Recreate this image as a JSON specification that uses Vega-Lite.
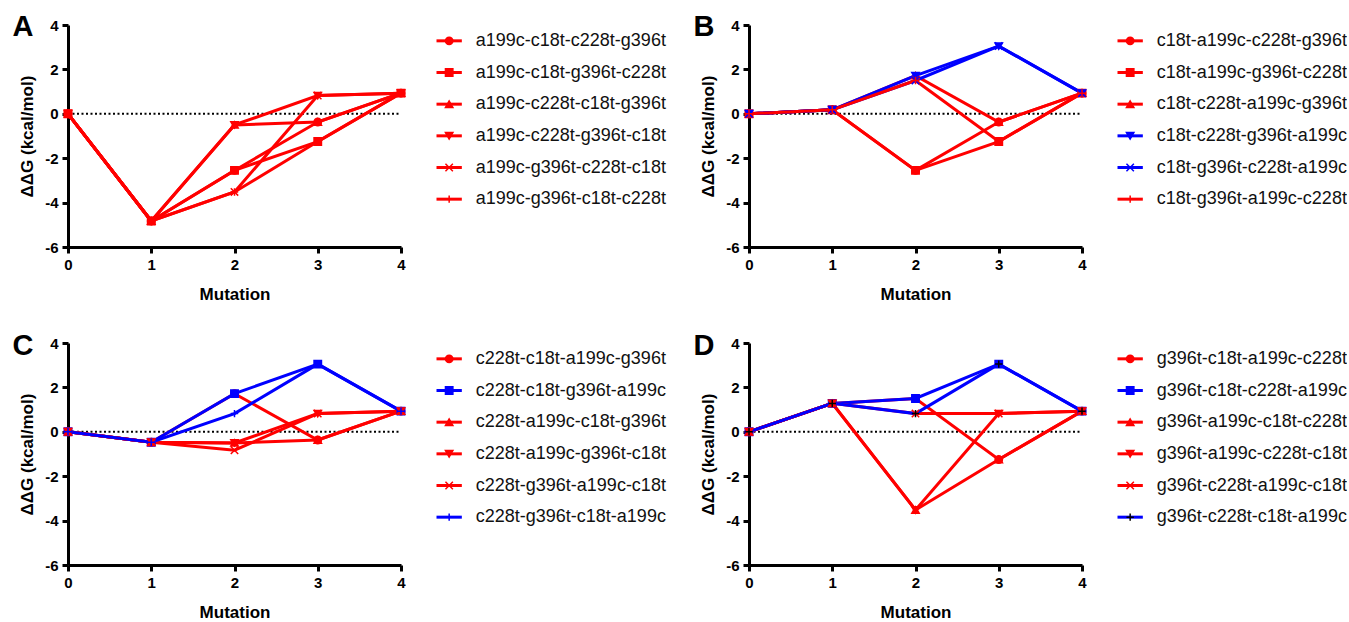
{
  "$schema": "https://vega.github.io/schema/vega-lite/v6.json",
  "padding": {"left": 12, "top": 13, "right": 0, "bottom": 0},
  "background": "white",
  "config": {
    "font": "Liberation Sans",
    "view": {"stroke": null},
    "axis": {
      "domainColor": "#000", "domainWidth": 3, "tickColor": "#000", "tickWidth": 3, "tickSize": 6,
      "labelFont": "Liberation Sans", "labelFontSize": 15, "labelFontWeight": "bold", "labelColor": "#000", "labelPadding": 4,
      "titleFont": "Liberation Sans", "titleFontSize": 17, "titleFontWeight": "bold", "titleColor": "#000", "grid": false
    },
    "axisX": {"titlePadding": 14},
    "axisY": {"titlePadding": 8},
    "text": {"font": "Liberation Sans"}
  },
  "datasets": {
    "d": [
      {"p": "A", "s": "a199c-c18t-c228t-g396t", "m": 0, "g": 0},
      {"p": "A", "s": "a199c-c18t-c228t-g396t", "m": 1, "g": -4.83},
      {"p": "A", "s": "a199c-c18t-c228t-g396t", "m": 2, "g": -2.55},
      {"p": "A", "s": "a199c-c18t-c228t-g396t", "m": 3, "g": -0.37},
      {"p": "A", "s": "a199c-c18t-c228t-g396t", "m": 4, "g": 0.93},
      {"p": "A", "s": "a199c-c18t-g396t-c228t", "m": 0, "g": 0},
      {"p": "A", "s": "a199c-c18t-g396t-c228t", "m": 1, "g": -4.83},
      {"p": "A", "s": "a199c-c18t-g396t-c228t", "m": 2, "g": -2.55},
      {"p": "A", "s": "a199c-c18t-g396t-c228t", "m": 3, "g": -1.25},
      {"p": "A", "s": "a199c-c18t-g396t-c228t", "m": 4, "g": 0.93},
      {"p": "A", "s": "a199c-c228t-c18t-g396t", "m": 0, "g": 0},
      {"p": "A", "s": "a199c-c228t-c18t-g396t", "m": 1, "g": -4.83},
      {"p": "A", "s": "a199c-c228t-c18t-g396t", "m": 2, "g": -0.5},
      {"p": "A", "s": "a199c-c228t-c18t-g396t", "m": 3, "g": -0.37},
      {"p": "A", "s": "a199c-c228t-c18t-g396t", "m": 4, "g": 0.93},
      {"p": "A", "s": "a199c-c228t-g396t-c18t", "m": 0, "g": 0},
      {"p": "A", "s": "a199c-c228t-g396t-c18t", "m": 1, "g": -4.83},
      {"p": "A", "s": "a199c-c228t-g396t-c18t", "m": 2, "g": -0.5},
      {"p": "A", "s": "a199c-c228t-g396t-c18t", "m": 3, "g": 0.82},
      {"p": "A", "s": "a199c-c228t-g396t-c18t", "m": 4, "g": 0.93},
      {"p": "A", "s": "a199c-g396t-c228t-c18t", "m": 0, "g": 0},
      {"p": "A", "s": "a199c-g396t-c228t-c18t", "m": 1, "g": -4.83},
      {"p": "A", "s": "a199c-g396t-c228t-c18t", "m": 2, "g": -3.52},
      {"p": "A", "s": "a199c-g396t-c228t-c18t", "m": 3, "g": 0.82},
      {"p": "A", "s": "a199c-g396t-c228t-c18t", "m": 4, "g": 0.93},
      {"p": "A", "s": "a199c-g396t-c18t-c228t", "m": 0, "g": 0},
      {"p": "A", "s": "a199c-g396t-c18t-c228t", "m": 1, "g": -4.83},
      {"p": "A", "s": "a199c-g396t-c18t-c228t", "m": 2, "g": -3.52},
      {"p": "A", "s": "a199c-g396t-c18t-c228t", "m": 3, "g": -1.25},
      {"p": "A", "s": "a199c-g396t-c18t-c228t", "m": 4, "g": 0.93},

      {"p": "B", "s": "c18t-a199c-c228t-g396t", "m": 0, "g": 0},
      {"p": "B", "s": "c18t-a199c-c228t-g396t", "m": 1, "g": 0.18},
      {"p": "B", "s": "c18t-a199c-c228t-g396t", "m": 2, "g": -2.55},
      {"p": "B", "s": "c18t-a199c-c228t-g396t", "m": 3, "g": -0.37},
      {"p": "B", "s": "c18t-a199c-c228t-g396t", "m": 4, "g": 0.93},
      {"p": "B", "s": "c18t-a199c-g396t-c228t", "m": 0, "g": 0},
      {"p": "B", "s": "c18t-a199c-g396t-c228t", "m": 1, "g": 0.18},
      {"p": "B", "s": "c18t-a199c-g396t-c228t", "m": 2, "g": -2.55},
      {"p": "B", "s": "c18t-a199c-g396t-c228t", "m": 3, "g": -1.25},
      {"p": "B", "s": "c18t-a199c-g396t-c228t", "m": 4, "g": 0.93},
      {"p": "B", "s": "c18t-c228t-a199c-g396t", "m": 0, "g": 0},
      {"p": "B", "s": "c18t-c228t-a199c-g396t", "m": 1, "g": 0.18},
      {"p": "B", "s": "c18t-c228t-a199c-g396t", "m": 2, "g": 1.72},
      {"p": "B", "s": "c18t-c228t-a199c-g396t", "m": 3, "g": -0.37},
      {"p": "B", "s": "c18t-c228t-a199c-g396t", "m": 4, "g": 0.93},
      {"p": "B", "s": "c18t-c228t-g396t-a199c", "m": 0, "g": 0},
      {"p": "B", "s": "c18t-c228t-g396t-a199c", "m": 1, "g": 0.18},
      {"p": "B", "s": "c18t-c228t-g396t-a199c", "m": 2, "g": 1.72},
      {"p": "B", "s": "c18t-c228t-g396t-a199c", "m": 3, "g": 3.05},
      {"p": "B", "s": "c18t-c228t-g396t-a199c", "m": 4, "g": 0.93},
      {"p": "B", "s": "c18t-g396t-c228t-a199c", "m": 0, "g": 0},
      {"p": "B", "s": "c18t-g396t-c228t-a199c", "m": 1, "g": 0.18},
      {"p": "B", "s": "c18t-g396t-c228t-a199c", "m": 2, "g": 1.5},
      {"p": "B", "s": "c18t-g396t-c228t-a199c", "m": 3, "g": 3.05},
      {"p": "B", "s": "c18t-g396t-c228t-a199c", "m": 4, "g": 0.93},
      {"p": "B", "s": "c18t-g396t-a199c-c228t", "m": 0, "g": 0},
      {"p": "B", "s": "c18t-g396t-a199c-c228t", "m": 1, "g": 0.18},
      {"p": "B", "s": "c18t-g396t-a199c-c228t", "m": 2, "g": 1.5},
      {"p": "B", "s": "c18t-g396t-a199c-c228t", "m": 3, "g": -1.25},
      {"p": "B", "s": "c18t-g396t-a199c-c228t", "m": 4, "g": 0.93},

      {"p": "C", "s": "c228t-c18t-a199c-g396t", "m": 0, "g": 0},
      {"p": "C", "s": "c228t-c18t-a199c-g396t", "m": 1, "g": -0.47},
      {"p": "C", "s": "c228t-c18t-a199c-g396t", "m": 2, "g": 1.72},
      {"p": "C", "s": "c228t-c18t-a199c-g396t", "m": 3, "g": -0.37},
      {"p": "C", "s": "c228t-c18t-a199c-g396t", "m": 4, "g": 0.93},
      {"p": "C", "s": "c228t-c18t-g396t-a199c", "m": 0, "g": 0},
      {"p": "C", "s": "c228t-c18t-g396t-a199c", "m": 1, "g": -0.47},
      {"p": "C", "s": "c228t-c18t-g396t-a199c", "m": 2, "g": 1.72},
      {"p": "C", "s": "c228t-c18t-g396t-a199c", "m": 3, "g": 3.05},
      {"p": "C", "s": "c228t-c18t-g396t-a199c", "m": 4, "g": 0.93},
      {"p": "C", "s": "c228t-a199c-c18t-g396t", "m": 0, "g": 0},
      {"p": "C", "s": "c228t-a199c-c18t-g396t", "m": 1, "g": -0.47},
      {"p": "C", "s": "c228t-a199c-c18t-g396t", "m": 2, "g": -0.5},
      {"p": "C", "s": "c228t-a199c-c18t-g396t", "m": 3, "g": -0.37},
      {"p": "C", "s": "c228t-a199c-c18t-g396t", "m": 4, "g": 0.93},
      {"p": "C", "s": "c228t-a199c-g396t-c18t", "m": 0, "g": 0},
      {"p": "C", "s": "c228t-a199c-g396t-c18t", "m": 1, "g": -0.47},
      {"p": "C", "s": "c228t-a199c-g396t-c18t", "m": 2, "g": -0.5},
      {"p": "C", "s": "c228t-a199c-g396t-c18t", "m": 3, "g": 0.82},
      {"p": "C", "s": "c228t-a199c-g396t-c18t", "m": 4, "g": 0.93},
      {"p": "C", "s": "c228t-g396t-a199c-c18t", "m": 0, "g": 0},
      {"p": "C", "s": "c228t-g396t-a199c-c18t", "m": 1, "g": -0.47},
      {"p": "C", "s": "c228t-g396t-a199c-c18t", "m": 2, "g": -0.83},
      {"p": "C", "s": "c228t-g396t-a199c-c18t", "m": 3, "g": 0.82},
      {"p": "C", "s": "c228t-g396t-a199c-c18t", "m": 4, "g": 0.93},
      {"p": "C", "s": "c228t-g396t-c18t-a199c", "m": 0, "g": 0},
      {"p": "C", "s": "c228t-g396t-c18t-a199c", "m": 1, "g": -0.47},
      {"p": "C", "s": "c228t-g396t-c18t-a199c", "m": 2, "g": 0.82},
      {"p": "C", "s": "c228t-g396t-c18t-a199c", "m": 3, "g": 3.05},
      {"p": "C", "s": "c228t-g396t-c18t-a199c", "m": 4, "g": 0.93},

      {"p": "D", "s": "g396t-c18t-a199c-c228t", "m": 0, "g": 0},
      {"p": "D", "s": "g396t-c18t-a199c-c228t", "m": 1, "g": 1.28},
      {"p": "D", "s": "g396t-c18t-a199c-c228t", "m": 2, "g": 1.5},
      {"p": "D", "s": "g396t-c18t-a199c-c228t", "m": 3, "g": -1.25},
      {"p": "D", "s": "g396t-c18t-a199c-c228t", "m": 4, "g": 0.93},
      {"p": "D", "s": "g396t-c18t-c228t-a199c", "m": 0, "g": 0},
      {"p": "D", "s": "g396t-c18t-c228t-a199c", "m": 1, "g": 1.28},
      {"p": "D", "s": "g396t-c18t-c228t-a199c", "m": 2, "g": 1.5},
      {"p": "D", "s": "g396t-c18t-c228t-a199c", "m": 3, "g": 3.05},
      {"p": "D", "s": "g396t-c18t-c228t-a199c", "m": 4, "g": 0.93},
      {"p": "D", "s": "g396t-a199c-c18t-c228t", "m": 0, "g": 0},
      {"p": "D", "s": "g396t-a199c-c18t-c228t", "m": 1, "g": 1.28},
      {"p": "D", "s": "g396t-a199c-c18t-c228t", "m": 2, "g": -3.52},
      {"p": "D", "s": "g396t-a199c-c18t-c228t", "m": 3, "g": -1.25},
      {"p": "D", "s": "g396t-a199c-c18t-c228t", "m": 4, "g": 0.93},
      {"p": "D", "s": "g396t-a199c-c228t-c18t", "m": 0, "g": 0},
      {"p": "D", "s": "g396t-a199c-c228t-c18t", "m": 1, "g": 1.28},
      {"p": "D", "s": "g396t-a199c-c228t-c18t", "m": 2, "g": -3.52},
      {"p": "D", "s": "g396t-a199c-c228t-c18t", "m": 3, "g": 0.82},
      {"p": "D", "s": "g396t-a199c-c228t-c18t", "m": 4, "g": 0.93},
      {"p": "D", "s": "g396t-c228t-a199c-c18t", "m": 0, "g": 0},
      {"p": "D", "s": "g396t-c228t-a199c-c18t", "m": 1, "g": 1.28},
      {"p": "D", "s": "g396t-c228t-a199c-c18t", "m": 2, "g": 0.82},
      {"p": "D", "s": "g396t-c228t-a199c-c18t", "m": 3, "g": 0.82},
      {"p": "D", "s": "g396t-c228t-a199c-c18t", "m": 4, "g": 0.93},
      {"p": "D", "s": "g396t-c228t-c18t-a199c", "m": 0, "g": 0},
      {"p": "D", "s": "g396t-c228t-c18t-a199c", "m": 1, "g": 1.28},
      {"p": "D", "s": "g396t-c228t-c18t-a199c", "m": 2, "g": 0.82},
      {"p": "D", "s": "g396t-c228t-c18t-a199c", "m": 3, "g": 3.05},
      {"p": "D", "s": "g396t-c228t-c18t-a199c", "m": 4, "g": 0.93}
    ]
  },
  "resolve": {"scale": {"x": "independent", "y": "independent", "color": "independent", "fill": "independent", "stroke": "independent", "shape": "independent"}},
  "spacing": 30,
  "vconcat": [
    {
      "spacing": 26.5,
      "resolve": {"scale": {"x": "independent", "y": "independent", "color": "independent", "fill": "independent", "stroke": "independent", "shape": "independent"}},
      "hconcat": [
        {
          "width": 333, "height": 222,
          "data": {"name": "d"},
          "transform": [{"filter": "datum.p === 'A'"}],
          "layer": [
            {"transform": [{"aggregate": [{"op": "count", "as": "n"}]}], "mark": {"type": "rule", "color": "#000", "strokeWidth": 2, "strokeDash": [2, 2.5]}, "encoding": {
              "x": {"datum": 0, "type": "quantitative", "scale": {"domain": [0, 4], "nice": false}, "axis": {"title": "Mutation", "values": [0, 1, 2, 3, 4], "labelFlush": false}},
              "x2": {"datum": 4},
              "y": {"datum": 0, "type": "quantitative", "scale": {"domain": [-6, 4], "nice": false}, "axis": {"title": "ΔΔG (kcal/mol)", "values": [-6, -4, -2, 0, 2, 4], "labelExpr": "datum.value + ''", "labelFlush": false}}}},
            {"mark": {"type": "line", "strokeWidth": 3}, "encoding": {
              "x": {"field": "m", "type": "quantitative", "scale": {"domain": [0, 4], "nice": false}, "axis": {"title": "Mutation", "values": [0, 1, 2, 3, 4], "labelFlush": false}},
              "y": {"field": "g", "type": "quantitative", "scale": {"domain": [-6, 4], "nice": false}, "axis": {"title": "ΔΔG (kcal/mol)", "values": [-6, -4, -2, 0, 2, 4], "labelExpr": "datum.value + ''", "labelFlush": false}},
              "color": {"field": "s", "type": "nominal", "legend": null, "scale": {"domain": ["a199c-c18t-c228t-g396t", "a199c-c18t-g396t-c228t", "a199c-c228t-c18t-g396t", "a199c-c228t-g396t-c18t", "a199c-g396t-c228t-c18t", "a199c-g396t-c18t-c228t"], "range": ["#ff0000", "#ff0000", "#ff0000", "#ff0000", "#ff0000", "#ff0000"]}}}},
            {"mark": {"type": "point", "filled": true, "size": 55, "opacity": 1, "strokeWidth": 1.5}, "encoding": {
              "x": {"field": "m", "type": "quantitative", "scale": {"domain": [0, 4], "nice": false}, "axis": {"title": "Mutation", "values": [0, 1, 2, 3, 4], "labelFlush": false}},
              "y": {"field": "g", "type": "quantitative", "scale": {"domain": [-6, 4], "nice": false}, "axis": {"title": "ΔΔG (kcal/mol)", "values": [-6, -4, -2, 0, 2, 4], "labelExpr": "datum.value + ''", "labelFlush": false}},
              "shape": {"field": "s", "type": "nominal", "legend": null, "scale": {"domain": ["a199c-c18t-c228t-g396t", "a199c-c18t-g396t-c228t", "a199c-c228t-c18t-g396t", "a199c-c228t-g396t-c18t", "a199c-g396t-c228t-c18t", "a199c-g396t-c18t-c228t"], "range": ["circle", "square", "triangle-up", "triangle-down", "M-1,-1L1,1M-1,1L1,-1", "M-1,0L1,0M0,-1L0,1"]}},
              "fill": {"field": "s", "type": "nominal", "legend": null, "scale": {"domain": ["a199c-c18t-c228t-g396t", "a199c-c18t-g396t-c228t", "a199c-c228t-c18t-g396t", "a199c-c228t-g396t-c18t", "a199c-g396t-c228t-c18t", "a199c-g396t-c18t-c228t"], "range": ["#ff0000", "#ff0000", "#ff0000", "#ff0000", "#ff0000", "#ff0000"]}},
              "stroke": {"field": "s", "type": "nominal", "legend": null, "scale": {"domain": ["a199c-c18t-c228t-g396t", "a199c-c18t-g396t-c228t", "a199c-c228t-c18t-g396t", "a199c-c228t-g396t-c18t", "a199c-g396t-c228t-c18t", "a199c-g396t-c18t-c228t"], "range": ["#ff0000", "#ff0000", "#ff0000", "#ff0000", "#ff0000", "#ff0000"]}}
            }},
            {"transform": [{"aggregate": [{"op": "count", "as": "n"}]}], "mark": {"type": "text", "text": "A", "fontSize": 29, "fontWeight": "bold", "color": "#000"}, "encoding": {
              "x": {"datum": -0.54, "type": "quantitative", "scale": {"domain": [0, 4], "nice": false}, "axis": {"title": "Mutation", "values": [0, 1, 2, 3, 4], "labelFlush": false}},
              "y": {"datum": 3.9, "type": "quantitative", "scale": {"domain": [-6, 4], "nice": false}, "axis": {"title": "ΔΔG (kcal/mol)", "values": [-6, -4, -2, 0, 2, 4], "labelExpr": "datum.value + ''", "labelFlush": false}}}}
          ]
        },
        {
          "width": 228, "height": 190,
          "data": {"name": "d"},
          "transform": [{"filter": "datum.p === 'A' && datum.m === 0"}],
          "encoding": {"y": {"field": "s", "type": "nominal", "axis": null, "scale": {"type": "point", "padding": 0.5, "domain": ["a199c-c18t-c228t-g396t", "a199c-c18t-g396t-c228t", "a199c-c228t-c18t-g396t", "a199c-c228t-g396t-c18t", "a199c-g396t-c228t-c18t", "a199c-g396t-c18t-c228t"]}}},
          "layer": [
            {"mark": {"type": "rule", "strokeWidth": 3}, "encoding": {
              "x": {"datum": 0, "type": "quantitative", "scale": {"domain": [0, 9]}, "axis": null}, "x2": {"datum": 1},
              "color": {"field": "s", "type": "nominal", "legend": null, "scale": {"domain": ["a199c-c18t-c228t-g396t", "a199c-c18t-g396t-c228t", "a199c-c228t-c18t-g396t", "a199c-c228t-g396t-c18t", "a199c-g396t-c228t-c18t", "a199c-g396t-c18t-c228t"], "range": ["#ff0000", "#ff0000", "#ff0000", "#ff0000", "#ff0000", "#ff0000"]}}}},
            {"mark": {"type": "point", "filled": true, "size": 55, "opacity": 1, "strokeWidth": 1.5}, "encoding": {
              "x": {"datum": 0.5, "type": "quantitative", "scale": {"domain": [0, 9]}, "axis": null},
              "shape": {"field": "s", "type": "nominal", "legend": null, "scale": {"domain": ["a199c-c18t-c228t-g396t", "a199c-c18t-g396t-c228t", "a199c-c228t-c18t-g396t", "a199c-c228t-g396t-c18t", "a199c-g396t-c228t-c18t", "a199c-g396t-c18t-c228t"], "range": ["circle", "square", "triangle-up", "triangle-down", "M-1,-1L1,1M-1,1L1,-1", "M-1,0L1,0M0,-1L0,1"]}},
              "fill": {"field": "s", "type": "nominal", "legend": null, "scale": {"domain": ["a199c-c18t-c228t-g396t", "a199c-c18t-g396t-c228t", "a199c-c228t-c18t-g396t", "a199c-c228t-g396t-c18t", "a199c-g396t-c228t-c18t", "a199c-g396t-c18t-c228t"], "range": ["#ff0000", "#ff0000", "#ff0000", "#ff0000", "#ff0000", "#ff0000"]}},
              "stroke": {"field": "s", "type": "nominal", "legend": null, "scale": {"domain": ["a199c-c18t-c228t-g396t", "a199c-c18t-g396t-c228t", "a199c-c228t-c18t-g396t", "a199c-c228t-g396t-c18t", "a199c-g396t-c228t-c18t", "a199c-g396t-c18t-c228t"], "range": ["#ff0000", "#ff0000", "#ff0000", "#ff0000", "#ff0000", "#ff0000"]}}
            }},
            {"mark": {"type": "text", "align": "left", "baseline": "middle", "fontSize": 18, "color": "#111"}, "encoding": {
              "x": {"datum": 1.55, "type": "quantitative", "scale": {"domain": [0, 9]}, "axis": null},
              "text": {"field": "s"}}}
          ]
        },
        {
          "width": 333, "height": 222,
          "data": {"name": "d"},
          "transform": [{"filter": "datum.p === 'B'"}],
          "layer": [
            {"transform": [{"aggregate": [{"op": "count", "as": "n"}]}], "mark": {"type": "rule", "color": "#000", "strokeWidth": 2, "strokeDash": [2, 2.5]}, "encoding": {
              "x": {"datum": 0, "type": "quantitative", "scale": {"domain": [0, 4], "nice": false}, "axis": {"title": "Mutation", "values": [0, 1, 2, 3, 4], "labelFlush": false}},
              "x2": {"datum": 4},
              "y": {"datum": 0, "type": "quantitative", "scale": {"domain": [-6, 4], "nice": false}, "axis": {"title": "ΔΔG (kcal/mol)", "values": [-6, -4, -2, 0, 2, 4], "labelExpr": "datum.value + ''", "labelFlush": false}}}},
            {"mark": {"type": "line", "strokeWidth": 3}, "encoding": {
              "x": {"field": "m", "type": "quantitative", "scale": {"domain": [0, 4], "nice": false}, "axis": {"title": "Mutation", "values": [0, 1, 2, 3, 4], "labelFlush": false}},
              "y": {"field": "g", "type": "quantitative", "scale": {"domain": [-6, 4], "nice": false}, "axis": {"title": "ΔΔG (kcal/mol)", "values": [-6, -4, -2, 0, 2, 4], "labelExpr": "datum.value + ''", "labelFlush": false}},
              "color": {"field": "s", "type": "nominal", "legend": null, "scale": {"domain": ["c18t-a199c-c228t-g396t", "c18t-a199c-g396t-c228t", "c18t-c228t-a199c-g396t", "c18t-c228t-g396t-a199c", "c18t-g396t-c228t-a199c", "c18t-g396t-a199c-c228t"], "range": ["#ff0000", "#ff0000", "#ff0000", "#0000ff", "#0000ff", "#ff0000"]}}}},
            {"mark": {"type": "point", "filled": true, "size": 55, "opacity": 1, "strokeWidth": 1.5}, "encoding": {
              "x": {"field": "m", "type": "quantitative", "scale": {"domain": [0, 4], "nice": false}, "axis": {"title": "Mutation", "values": [0, 1, 2, 3, 4], "labelFlush": false}},
              "y": {"field": "g", "type": "quantitative", "scale": {"domain": [-6, 4], "nice": false}, "axis": {"title": "ΔΔG (kcal/mol)", "values": [-6, -4, -2, 0, 2, 4], "labelExpr": "datum.value + ''", "labelFlush": false}},
              "shape": {"field": "s", "type": "nominal", "legend": null, "scale": {"domain": ["c18t-a199c-c228t-g396t", "c18t-a199c-g396t-c228t", "c18t-c228t-a199c-g396t", "c18t-c228t-g396t-a199c", "c18t-g396t-c228t-a199c", "c18t-g396t-a199c-c228t"], "range": ["circle", "square", "triangle-up", "triangle-down", "M-1,-1L1,1M-1,1L1,-1", "M-1,0L1,0M0,-1L0,1"]}},
              "fill": {"field": "s", "type": "nominal", "legend": null, "scale": {"domain": ["c18t-a199c-c228t-g396t", "c18t-a199c-g396t-c228t", "c18t-c228t-a199c-g396t", "c18t-c228t-g396t-a199c", "c18t-g396t-c228t-a199c", "c18t-g396t-a199c-c228t"], "range": ["#ff0000", "#ff0000", "#ff0000", "#0000ff", "#0000ff", "#ff0000"]}},
              "stroke": {"field": "s", "type": "nominal", "legend": null, "scale": {"domain": ["c18t-a199c-c228t-g396t", "c18t-a199c-g396t-c228t", "c18t-c228t-a199c-g396t", "c18t-c228t-g396t-a199c", "c18t-g396t-c228t-a199c", "c18t-g396t-a199c-c228t"], "range": ["#ff0000", "#ff0000", "#ff0000", "#0000ff", "#0000ff", "#ff0000"]}}
            }},
            {"transform": [{"aggregate": [{"op": "count", "as": "n"}]}], "mark": {"type": "text", "text": "B", "fontSize": 29, "fontWeight": "bold", "color": "#000"}, "encoding": {
              "x": {"datum": -0.54, "type": "quantitative", "scale": {"domain": [0, 4], "nice": false}, "axis": {"title": "Mutation", "values": [0, 1, 2, 3, 4], "labelFlush": false}},
              "y": {"datum": 3.9, "type": "quantitative", "scale": {"domain": [-6, 4], "nice": false}, "axis": {"title": "ΔΔG (kcal/mol)", "values": [-6, -4, -2, 0, 2, 4], "labelExpr": "datum.value + ''", "labelFlush": false}}}}
          ]
        },
        {
          "width": 228, "height": 190,
          "data": {"name": "d"},
          "transform": [{"filter": "datum.p === 'B' && datum.m === 0"}],
          "encoding": {"y": {"field": "s", "type": "nominal", "axis": null, "scale": {"type": "point", "padding": 0.5, "domain": ["c18t-a199c-c228t-g396t", "c18t-a199c-g396t-c228t", "c18t-c228t-a199c-g396t", "c18t-c228t-g396t-a199c", "c18t-g396t-c228t-a199c", "c18t-g396t-a199c-c228t"]}}},
          "layer": [
            {"mark": {"type": "rule", "strokeWidth": 3}, "encoding": {
              "x": {"datum": 0, "type": "quantitative", "scale": {"domain": [0, 9]}, "axis": null}, "x2": {"datum": 1},
              "color": {"field": "s", "type": "nominal", "legend": null, "scale": {"domain": ["c18t-a199c-c228t-g396t", "c18t-a199c-g396t-c228t", "c18t-c228t-a199c-g396t", "c18t-c228t-g396t-a199c", "c18t-g396t-c228t-a199c", "c18t-g396t-a199c-c228t"], "range": ["#ff0000", "#ff0000", "#ff0000", "#0000ff", "#0000ff", "#ff0000"]}}}},
            {"mark": {"type": "point", "filled": true, "size": 55, "opacity": 1, "strokeWidth": 1.5}, "encoding": {
              "x": {"datum": 0.5, "type": "quantitative", "scale": {"domain": [0, 9]}, "axis": null},
              "shape": {"field": "s", "type": "nominal", "legend": null, "scale": {"domain": ["c18t-a199c-c228t-g396t", "c18t-a199c-g396t-c228t", "c18t-c228t-a199c-g396t", "c18t-c228t-g396t-a199c", "c18t-g396t-c228t-a199c", "c18t-g396t-a199c-c228t"], "range": ["circle", "square", "triangle-up", "triangle-down", "M-1,-1L1,1M-1,1L1,-1", "M-1,0L1,0M0,-1L0,1"]}},
              "fill": {"field": "s", "type": "nominal", "legend": null, "scale": {"domain": ["c18t-a199c-c228t-g396t", "c18t-a199c-g396t-c228t", "c18t-c228t-a199c-g396t", "c18t-c228t-g396t-a199c", "c18t-g396t-c228t-a199c", "c18t-g396t-a199c-c228t"], "range": ["#ff0000", "#ff0000", "#ff0000", "#0000ff", "#0000ff", "#ff0000"]}},
              "stroke": {"field": "s", "type": "nominal", "legend": null, "scale": {"domain": ["c18t-a199c-c228t-g396t", "c18t-a199c-g396t-c228t", "c18t-c228t-a199c-g396t", "c18t-c228t-g396t-a199c", "c18t-g396t-c228t-a199c", "c18t-g396t-a199c-c228t"], "range": ["#ff0000", "#ff0000", "#ff0000", "#0000ff", "#0000ff", "#ff0000"]}}
            }},
            {"mark": {"type": "text", "align": "left", "baseline": "middle", "fontSize": 18, "color": "#111"}, "encoding": {
              "x": {"datum": 1.55, "type": "quantitative", "scale": {"domain": [0, 9]}, "axis": null},
              "text": {"field": "s"}}}
          ]
        }
      ]
    },
    {
      "spacing": 26.5,
      "resolve": {"scale": {"x": "independent", "y": "independent", "color": "independent", "fill": "independent", "stroke": "independent", "shape": "independent"}},
      "hconcat": [
        {
          "width": 333, "height": 222,
          "data": {"name": "d"},
          "transform": [{"filter": "datum.p === 'C'"}],
          "layer": [
            {"transform": [{"aggregate": [{"op": "count", "as": "n"}]}], "mark": {"type": "rule", "color": "#000", "strokeWidth": 2, "strokeDash": [2, 2.5]}, "encoding": {
              "x": {"datum": 0, "type": "quantitative", "scale": {"domain": [0, 4], "nice": false}, "axis": {"title": "Mutation", "values": [0, 1, 2, 3, 4], "labelFlush": false}},
              "x2": {"datum": 4},
              "y": {"datum": 0, "type": "quantitative", "scale": {"domain": [-6, 4], "nice": false}, "axis": {"title": "ΔΔG (kcal/mol)", "values": [-6, -4, -2, 0, 2, 4], "labelExpr": "datum.value + ''", "labelFlush": false}}}},
            {"mark": {"type": "line", "strokeWidth": 3}, "encoding": {
              "x": {"field": "m", "type": "quantitative", "scale": {"domain": [0, 4], "nice": false}, "axis": {"title": "Mutation", "values": [0, 1, 2, 3, 4], "labelFlush": false}},
              "y": {"field": "g", "type": "quantitative", "scale": {"domain": [-6, 4], "nice": false}, "axis": {"title": "ΔΔG (kcal/mol)", "values": [-6, -4, -2, 0, 2, 4], "labelExpr": "datum.value + ''", "labelFlush": false}},
              "color": {"field": "s", "type": "nominal", "legend": null, "scale": {"domain": ["c228t-c18t-a199c-g396t", "c228t-c18t-g396t-a199c", "c228t-a199c-c18t-g396t", "c228t-a199c-g396t-c18t", "c228t-g396t-a199c-c18t", "c228t-g396t-c18t-a199c"], "range": ["#ff0000", "#0000ff", "#ff0000", "#ff0000", "#ff0000", "#0000ff"]}}}},
            {"mark": {"type": "point", "filled": true, "size": 55, "opacity": 1, "strokeWidth": 1.5}, "encoding": {
              "x": {"field": "m", "type": "quantitative", "scale": {"domain": [0, 4], "nice": false}, "axis": {"title": "Mutation", "values": [0, 1, 2, 3, 4], "labelFlush": false}},
              "y": {"field": "g", "type": "quantitative", "scale": {"domain": [-6, 4], "nice": false}, "axis": {"title": "ΔΔG (kcal/mol)", "values": [-6, -4, -2, 0, 2, 4], "labelExpr": "datum.value + ''", "labelFlush": false}},
              "shape": {"field": "s", "type": "nominal", "legend": null, "scale": {"domain": ["c228t-c18t-a199c-g396t", "c228t-c18t-g396t-a199c", "c228t-a199c-c18t-g396t", "c228t-a199c-g396t-c18t", "c228t-g396t-a199c-c18t", "c228t-g396t-c18t-a199c"], "range": ["circle", "square", "triangle-up", "triangle-down", "M-1,-1L1,1M-1,1L1,-1", "M-1,0L1,0M0,-1L0,1"]}},
              "fill": {"field": "s", "type": "nominal", "legend": null, "scale": {"domain": ["c228t-c18t-a199c-g396t", "c228t-c18t-g396t-a199c", "c228t-a199c-c18t-g396t", "c228t-a199c-g396t-c18t", "c228t-g396t-a199c-c18t", "c228t-g396t-c18t-a199c"], "range": ["#ff0000", "#0000ff", "#ff0000", "#ff0000", "#ff0000", "#0000ff"]}},
              "stroke": {"field": "s", "type": "nominal", "legend": null, "scale": {"domain": ["c228t-c18t-a199c-g396t", "c228t-c18t-g396t-a199c", "c228t-a199c-c18t-g396t", "c228t-a199c-g396t-c18t", "c228t-g396t-a199c-c18t", "c228t-g396t-c18t-a199c"], "range": ["#ff0000", "#0000ff", "#ff0000", "#ff0000", "#ff0000", "#0000ff"]}}
            }},
            {"transform": [{"aggregate": [{"op": "count", "as": "n"}]}], "mark": {"type": "text", "text": "C", "fontSize": 29, "fontWeight": "bold", "color": "#000"}, "encoding": {
              "x": {"datum": -0.54, "type": "quantitative", "scale": {"domain": [0, 4], "nice": false}, "axis": {"title": "Mutation", "values": [0, 1, 2, 3, 4], "labelFlush": false}},
              "y": {"datum": 3.85, "type": "quantitative", "scale": {"domain": [-6, 4], "nice": false}, "axis": {"title": "ΔΔG (kcal/mol)", "values": [-6, -4, -2, 0, 2, 4], "labelExpr": "datum.value + ''", "labelFlush": false}}}}
          ]
        },
        {
          "width": 228, "height": 190,
          "data": {"name": "d"},
          "transform": [{"filter": "datum.p === 'C' && datum.m === 0"}],
          "encoding": {"y": {"field": "s", "type": "nominal", "axis": null, "scale": {"type": "point", "padding": 0.5, "domain": ["c228t-c18t-a199c-g396t", "c228t-c18t-g396t-a199c", "c228t-a199c-c18t-g396t", "c228t-a199c-g396t-c18t", "c228t-g396t-a199c-c18t", "c228t-g396t-c18t-a199c"]}}},
          "layer": [
            {"mark": {"type": "rule", "strokeWidth": 3}, "encoding": {
              "x": {"datum": 0, "type": "quantitative", "scale": {"domain": [0, 9]}, "axis": null}, "x2": {"datum": 1},
              "color": {"field": "s", "type": "nominal", "legend": null, "scale": {"domain": ["c228t-c18t-a199c-g396t", "c228t-c18t-g396t-a199c", "c228t-a199c-c18t-g396t", "c228t-a199c-g396t-c18t", "c228t-g396t-a199c-c18t", "c228t-g396t-c18t-a199c"], "range": ["#ff0000", "#0000ff", "#ff0000", "#ff0000", "#ff0000", "#0000ff"]}}}},
            {"mark": {"type": "point", "filled": true, "size": 55, "opacity": 1, "strokeWidth": 1.5}, "encoding": {
              "x": {"datum": 0.5, "type": "quantitative", "scale": {"domain": [0, 9]}, "axis": null},
              "shape": {"field": "s", "type": "nominal", "legend": null, "scale": {"domain": ["c228t-c18t-a199c-g396t", "c228t-c18t-g396t-a199c", "c228t-a199c-c18t-g396t", "c228t-a199c-g396t-c18t", "c228t-g396t-a199c-c18t", "c228t-g396t-c18t-a199c"], "range": ["circle", "square", "triangle-up", "triangle-down", "M-1,-1L1,1M-1,1L1,-1", "M-1,0L1,0M0,-1L0,1"]}},
              "fill": {"field": "s", "type": "nominal", "legend": null, "scale": {"domain": ["c228t-c18t-a199c-g396t", "c228t-c18t-g396t-a199c", "c228t-a199c-c18t-g396t", "c228t-a199c-g396t-c18t", "c228t-g396t-a199c-c18t", "c228t-g396t-c18t-a199c"], "range": ["#ff0000", "#0000ff", "#ff0000", "#ff0000", "#ff0000", "#0000ff"]}},
              "stroke": {"field": "s", "type": "nominal", "legend": null, "scale": {"domain": ["c228t-c18t-a199c-g396t", "c228t-c18t-g396t-a199c", "c228t-a199c-c18t-g396t", "c228t-a199c-g396t-c18t", "c228t-g396t-a199c-c18t", "c228t-g396t-c18t-a199c"], "range": ["#ff0000", "#0000ff", "#ff0000", "#ff0000", "#ff0000", "#0000ff"]}}
            }},
            {"mark": {"type": "text", "align": "left", "baseline": "middle", "fontSize": 18, "color": "#111"}, "encoding": {
              "x": {"datum": 1.55, "type": "quantitative", "scale": {"domain": [0, 9]}, "axis": null},
              "text": {"field": "s"}}}
          ]
        },
        {
          "width": 333, "height": 222,
          "data": {"name": "d"},
          "transform": [{"filter": "datum.p === 'D'"}],
          "layer": [
            {"transform": [{"aggregate": [{"op": "count", "as": "n"}]}], "mark": {"type": "rule", "color": "#000", "strokeWidth": 2, "strokeDash": [2, 2.5]}, "encoding": {
              "x": {"datum": 0, "type": "quantitative", "scale": {"domain": [0, 4], "nice": false}, "axis": {"title": "Mutation", "values": [0, 1, 2, 3, 4], "labelFlush": false}},
              "x2": {"datum": 4},
              "y": {"datum": 0, "type": "quantitative", "scale": {"domain": [-6, 4], "nice": false}, "axis": {"title": "ΔΔG (kcal/mol)", "values": [-6, -4, -2, 0, 2, 4], "labelExpr": "datum.value + ''", "labelFlush": false}}}},
            {"mark": {"type": "line", "strokeWidth": 3}, "encoding": {
              "x": {"field": "m", "type": "quantitative", "scale": {"domain": [0, 4], "nice": false}, "axis": {"title": "Mutation", "values": [0, 1, 2, 3, 4], "labelFlush": false}},
              "y": {"field": "g", "type": "quantitative", "scale": {"domain": [-6, 4], "nice": false}, "axis": {"title": "ΔΔG (kcal/mol)", "values": [-6, -4, -2, 0, 2, 4], "labelExpr": "datum.value + ''", "labelFlush": false}},
              "color": {"field": "s", "type": "nominal", "legend": null, "scale": {"domain": ["g396t-c18t-a199c-c228t", "g396t-c18t-c228t-a199c", "g396t-a199c-c18t-c228t", "g396t-a199c-c228t-c18t", "g396t-c228t-a199c-c18t", "g396t-c228t-c18t-a199c"], "range": ["#ff0000", "#0000ff", "#ff0000", "#ff0000", "#ff0000", "#0000ff"]}}}},
            {"mark": {"type": "point", "filled": true, "size": 55, "opacity": 1, "strokeWidth": 1.5}, "encoding": {
              "x": {"field": "m", "type": "quantitative", "scale": {"domain": [0, 4], "nice": false}, "axis": {"title": "Mutation", "values": [0, 1, 2, 3, 4], "labelFlush": false}},
              "y": {"field": "g", "type": "quantitative", "scale": {"domain": [-6, 4], "nice": false}, "axis": {"title": "ΔΔG (kcal/mol)", "values": [-6, -4, -2, 0, 2, 4], "labelExpr": "datum.value + ''", "labelFlush": false}},
              "shape": {"field": "s", "type": "nominal", "legend": null, "scale": {"domain": ["g396t-c18t-a199c-c228t", "g396t-c18t-c228t-a199c", "g396t-a199c-c18t-c228t", "g396t-a199c-c228t-c18t", "g396t-c228t-a199c-c18t", "g396t-c228t-c18t-a199c"], "range": ["circle", "square", "triangle-up", "triangle-down", "M-1,-1L1,1M-1,1L1,-1", "M-1,0L1,0M0,-1L0,1"]}},
              "fill": {"field": "s", "type": "nominal", "legend": null, "scale": {"domain": ["g396t-c18t-a199c-c228t", "g396t-c18t-c228t-a199c", "g396t-a199c-c18t-c228t", "g396t-a199c-c228t-c18t", "g396t-c228t-a199c-c18t", "g396t-c228t-c18t-a199c"], "range": ["#ff0000", "#0000ff", "#ff0000", "#ff0000", "#ff0000", "#000000"]}},
              "stroke": {"field": "s", "type": "nominal", "legend": null, "scale": {"domain": ["g396t-c18t-a199c-c228t", "g396t-c18t-c228t-a199c", "g396t-a199c-c18t-c228t", "g396t-a199c-c228t-c18t", "g396t-c228t-a199c-c18t", "g396t-c228t-c18t-a199c"], "range": ["#ff0000", "#0000ff", "#ff0000", "#ff0000", "#ff0000", "#000000"]}}
            }},
            {"transform": [{"aggregate": [{"op": "count", "as": "n"}]}], "mark": {"type": "text", "text": "D", "fontSize": 29, "fontWeight": "bold", "color": "#000"}, "encoding": {
              "x": {"datum": -0.54, "type": "quantitative", "scale": {"domain": [0, 4], "nice": false}, "axis": {"title": "Mutation", "values": [0, 1, 2, 3, 4], "labelFlush": false}},
              "y": {"datum": 3.85, "type": "quantitative", "scale": {"domain": [-6, 4], "nice": false}, "axis": {"title": "ΔΔG (kcal/mol)", "values": [-6, -4, -2, 0, 2, 4], "labelExpr": "datum.value + ''", "labelFlush": false}}}}
          ]
        },
        {
          "width": 228, "height": 190,
          "data": {"name": "d"},
          "transform": [{"filter": "datum.p === 'D' && datum.m === 0"}],
          "encoding": {"y": {"field": "s", "type": "nominal", "axis": null, "scale": {"type": "point", "padding": 0.5, "domain": ["g396t-c18t-a199c-c228t", "g396t-c18t-c228t-a199c", "g396t-a199c-c18t-c228t", "g396t-a199c-c228t-c18t", "g396t-c228t-a199c-c18t", "g396t-c228t-c18t-a199c"]}}},
          "layer": [
            {"mark": {"type": "rule", "strokeWidth": 3}, "encoding": {
              "x": {"datum": 0, "type": "quantitative", "scale": {"domain": [0, 9]}, "axis": null}, "x2": {"datum": 1},
              "color": {"field": "s", "type": "nominal", "legend": null, "scale": {"domain": ["g396t-c18t-a199c-c228t", "g396t-c18t-c228t-a199c", "g396t-a199c-c18t-c228t", "g396t-a199c-c228t-c18t", "g396t-c228t-a199c-c18t", "g396t-c228t-c18t-a199c"], "range": ["#ff0000", "#0000ff", "#ff0000", "#ff0000", "#ff0000", "#0000ff"]}}}},
            {"mark": {"type": "point", "filled": true, "size": 55, "opacity": 1, "strokeWidth": 1.5}, "encoding": {
              "x": {"datum": 0.5, "type": "quantitative", "scale": {"domain": [0, 9]}, "axis": null},
              "shape": {"field": "s", "type": "nominal", "legend": null, "scale": {"domain": ["g396t-c18t-a199c-c228t", "g396t-c18t-c228t-a199c", "g396t-a199c-c18t-c228t", "g396t-a199c-c228t-c18t", "g396t-c228t-a199c-c18t", "g396t-c228t-c18t-a199c"], "range": ["circle", "square", "triangle-up", "triangle-down", "M-1,-1L1,1M-1,1L1,-1", "M-1,0L1,0M0,-1L0,1"]}},
              "fill": {"field": "s", "type": "nominal", "legend": null, "scale": {"domain": ["g396t-c18t-a199c-c228t", "g396t-c18t-c228t-a199c", "g396t-a199c-c18t-c228t", "g396t-a199c-c228t-c18t", "g396t-c228t-a199c-c18t", "g396t-c228t-c18t-a199c"], "range": ["#ff0000", "#0000ff", "#ff0000", "#ff0000", "#ff0000", "#000000"]}},
              "stroke": {"field": "s", "type": "nominal", "legend": null, "scale": {"domain": ["g396t-c18t-a199c-c228t", "g396t-c18t-c228t-a199c", "g396t-a199c-c18t-c228t", "g396t-a199c-c228t-c18t", "g396t-c228t-a199c-c18t", "g396t-c228t-c18t-a199c"], "range": ["#ff0000", "#0000ff", "#ff0000", "#ff0000", "#ff0000", "#000000"]}}
            }},
            {"mark": {"type": "text", "align": "left", "baseline": "middle", "fontSize": 18, "color": "#111"}, "encoding": {
              "x": {"datum": 1.55, "type": "quantitative", "scale": {"domain": [0, 9]}, "axis": null},
              "text": {"field": "s"}}}
          ]
        }
      ]
    }
  ]
}
